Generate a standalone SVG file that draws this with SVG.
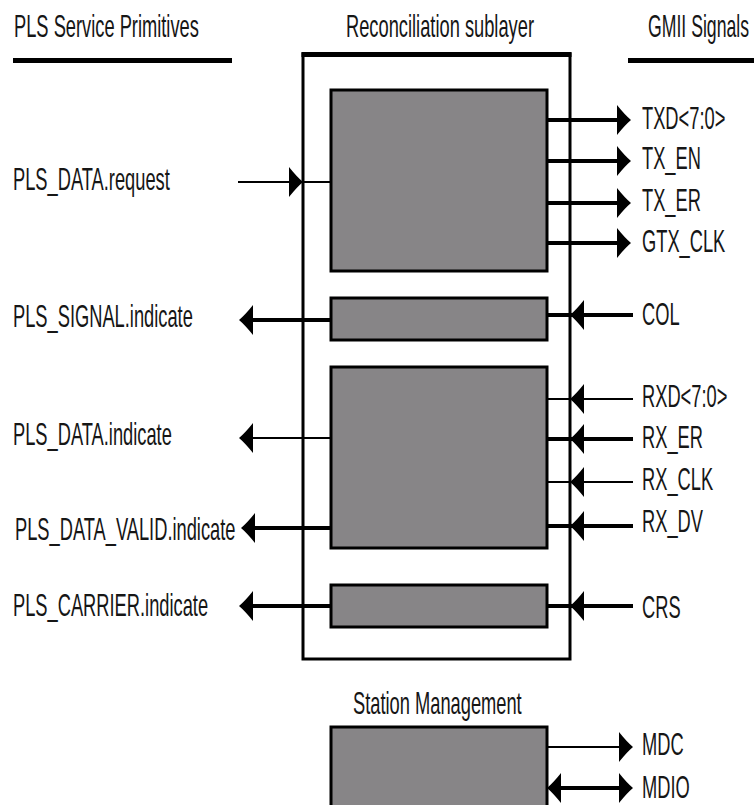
<svg xmlns="http://www.w3.org/2000/svg" xmlns:xlink="http://www.w3.org/1999/xlink" width="754" height="805" viewBox="0 0 754 805">
<style>
  text { font-family: "Liberation Sans", Arial, sans-serif; font-size: 31px; fill: #161616; }
  .box { fill: #878587; stroke: #000; stroke-width: 3; }
  .outer { fill: #fff; stroke: #000; stroke-width: 3; }
  .thick { stroke: #000; stroke-width: 4; fill: none; }
  .thin { stroke: #000; stroke-width: 2; fill: none; }
  .ah { fill: #000; }
</style>
<defs>
  <path id="ahR" class="ah" d="M0,0 Q-6,-5 -14,-15 L-14,15 Q-6,5 0,0 Z"/>
  <path id="ahL" class="ah" d="M0,0 Q6,-5 14,-15 L14,15 Q6,5 0,0 Z"/>
</defs>
<rect width="754" height="805" fill="#fff"/>

<g id="headers">
  <text transform="translate(14 37) scale(0.59 1)">PLS Service Primitives</text>
  <line x1="13" y1="60.5" x2="232" y2="60.5" stroke="#000" stroke-width="5"/>
  <text transform="translate(346 37) scale(0.59 1)">Reconciliation sublayer</text>
  <text transform="translate(648 37) scale(0.57 1)">GMII Signals</text>
  <line x1="628" y1="60.5" x2="754" y2="60.5" stroke="#000" stroke-width="5"/>
</g>

<g id="reconciliation-sublayer">
  <rect class="outer" x="303" y="54" width="267" height="605"/>
  <line x1="301.5" y1="54.5" x2="571.5" y2="54.5" stroke="#000" stroke-width="5"/>
</g>

<g id="tx-block"><rect class="box" x="331" y="90" width="216" height="181"/></g>
<g id="col-block"><rect class="box" x="331" y="298" width="216" height="42"/></g>
<g id="rx-block"><rect class="box" x="331" y="367" width="216" height="181"/></g>
<g id="crs-block"><rect class="box" x="331" y="585" width="216" height="42"/></g>
<g id="station-management">
  <text transform="translate(353 714) scale(0.59 1)">Station Management</text>
  <rect class="box" x="331" y="727" width="216" height="82"/>
</g>

<g id="connectors">
  <line class="thin" x1="238" y1="182" x2="331" y2="182"/>
  <use xlink:href="#ahR" x="303" y="182"/>
  <line class="thick" x1="252" y1="320" x2="331" y2="320"/>
  <use xlink:href="#ahL" x="239" y="320"/>
  <line class="thin" x1="252" y1="438" x2="331" y2="438"/>
  <use xlink:href="#ahL" x="239" y="438"/>
  <line class="thick" x1="254" y1="528" x2="331" y2="528"/>
  <use xlink:href="#ahL" x="241" y="528"/>
  <line class="thick" x1="252" y1="606" x2="331" y2="606"/>
  <use xlink:href="#ahL" x="239" y="606"/>
  <line class="thick" x1="547" y1="120" x2="619" y2="120"/>
  <use xlink:href="#ahR" x="631" y="120"/>
  <line class="thick" x1="547" y1="161" x2="619" y2="161"/>
  <use xlink:href="#ahR" x="631" y="161"/>
  <line class="thick" x1="547" y1="203" x2="619" y2="203"/>
  <use xlink:href="#ahR" x="631" y="203"/>
  <line class="thick" x1="547" y1="243" x2="619" y2="243"/>
  <use xlink:href="#ahR" x="631" y="243"/>
  <line class="thick" x1="547" y1="315" x2="633" y2="315"/>
  <use xlink:href="#ahL" x="570" y="315"/>
  <line class="thin" x1="547" y1="399" x2="633" y2="399"/>
  <use xlink:href="#ahL" x="570" y="399"/>
  <line class="thick" x1="547" y1="439" x2="633" y2="439"/>
  <use xlink:href="#ahL" x="570" y="439"/>
  <line class="thin" x1="547" y1="482" x2="633" y2="482"/>
  <use xlink:href="#ahL" x="570" y="482"/>
  <line class="thick" x1="547" y1="526" x2="633" y2="526"/>
  <use xlink:href="#ahL" x="570" y="526"/>
  <line class="thick" x1="547" y1="606" x2="633" y2="606"/>
  <use xlink:href="#ahL" x="570" y="606"/>
  <line class="thin" x1="547" y1="747" x2="621" y2="747"/>
  <use xlink:href="#ahR" x="633" y="747"/>
  <line class="thick" x1="559" y1="788" x2="621" y2="788"/>
  <use xlink:href="#ahL" x="547" y="788"/>
  <use xlink:href="#ahR" x="633" y="788"/>
</g>

<g id="pls-labels">
  <text transform="translate(13 190) scale(0.59 1)">PLS_DATA.request</text>
  <text transform="translate(13 327) scale(0.59 1)">PLS_SIGNAL.indicate</text>
  <text transform="translate(13 445) scale(0.59 1)">PLS_DATA.indicate</text>
  <text transform="translate(15 540) scale(0.59 1)">PLS_DATA_VALID.indicate</text>
  <text transform="translate(13 616) scale(0.59 1)">PLS_CARRIER.indicate</text>
</g>

<g id="gmii-labels">
  <text transform="translate(642 129) scale(0.59 1)">TXD&lt;7:0&gt;</text>
  <text transform="translate(642 169) scale(0.59 1)">TX_EN</text>
  <text transform="translate(642 211) scale(0.59 1)">TX_ER</text>
  <text transform="translate(642 252) scale(0.59 1)">GTX_CLK</text>
  <text transform="translate(642 325) scale(0.59 1)">COL</text>
  <text transform="translate(642 407) scale(0.59 1)">RXD&lt;7:0&gt;</text>
  <text transform="translate(642 448) scale(0.59 1)">RX_ER</text>
  <text transform="translate(642 490) scale(0.59 1)">RX_CLK</text>
  <text transform="translate(642 532) scale(0.59 1)">RX_DV</text>
  <text transform="translate(642 618) scale(0.59 1)">CRS</text>
  <text transform="translate(642 755) scale(0.59 1)">MDC</text>
  <text transform="translate(642 798) scale(0.59 1)">MDIO</text>
</g>
</svg>
